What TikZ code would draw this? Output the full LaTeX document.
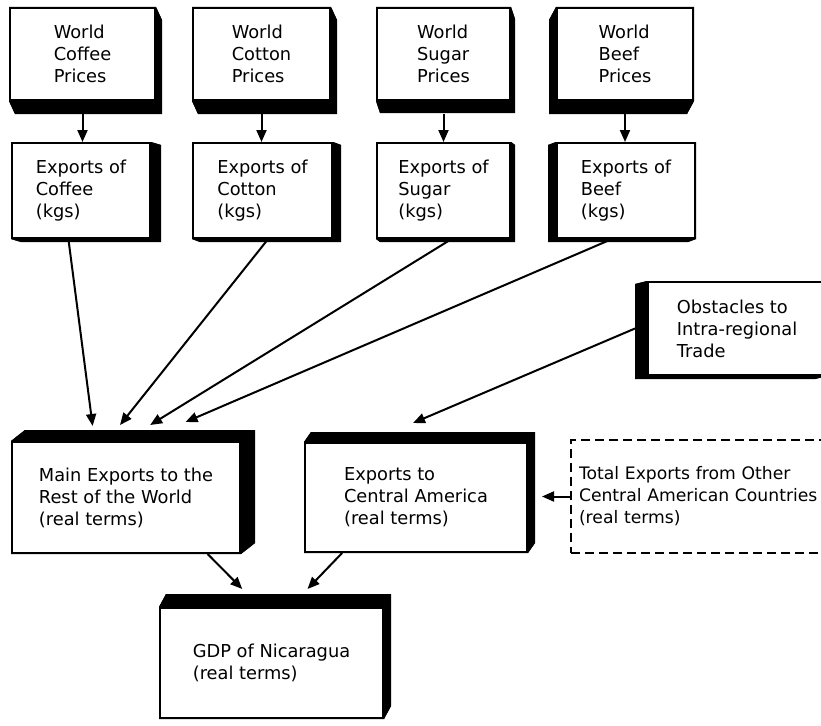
\documentclass[tikz,border=0pt]{standalone}
\usepackage{fontspec}
\setmainfont{DejaVu Sans}
\usetikzlibrary{arrows.meta,calc,backgrounds}

% solid side of a box, pushed out by (dx,dy)
\newcommand{\slab}[3]{%
  \fill ([shift={(#2,#3)}]#1.north west) rectangle ([shift={(#2,#3)}]#1.south east);
  \foreach \a/\b in {north west/north east, north east/south east, south east/south west, south west/north west}
    \fill (#1.\a) -- (#1.\b) -- ([shift={(#2,#3)}]#1.\b) -- ([shift={(#2,#3)}]#1.\a) -- cycle;
}

\begin{document}
\begin{tikzpicture}[x=1pt, y=-1pt, >={Triangle[length=12pt,width=10pt]},
  font=\fontsize{17.8}{22}\selectfont,
  blk/.style={draw, fill=white, line width=2pt, align=left, inner sep=0pt},
  conn/.style={->, line width=2pt}]
\useasboundingbox (0,0) rectangle (821,725);
% prices
\node[blk, minimum width=145pt, minimum height=92pt] (pc) at (82.5,54) {World\\Coffee\\Prices};
\node[blk, minimum width=137pt, minimum height=92pt] (pt) at (261.5,54) {World\\Cotton\\Prices};
\node[blk, minimum width=133pt, minimum height=92pt] (ps) at (443.5,54) {World\\Sugar\\Prices};
\node[blk, minimum width=136pt, minimum height=92pt] (pb) at (625,54) {World\\Beef\\Prices};
% exports in kgs
\node[blk, minimum width=138pt, minimum height=95pt] (ec) at (81,190.5) {Exports of\\Coffee\\(kgs)};
\node[blk, minimum width=139pt, minimum height=95pt] (et) at (262.5,190.5) {Exports of\\Cotton\\(kgs)};
\node[blk, minimum width=133pt, minimum height=95pt] (es) at (443.5,190.5) {Exports of\\Sugar\\(kgs)};
\node[blk, minimum width=138pt, minimum height=95pt] (eb) at (626,190.5) {Exports of\\Beef\\(kgs)};
\node[blk, minimum width=178pt, minimum height=93pt] (ob) at (737,328.5) {Obstacles to\\Intra-regional\\Trade};
% real terms
\node[blk, minimum width=228pt, minimum height=111pt] (mw) at (126,497.5) {Main Exports to the\\Rest of the World\\(real terms)};
\node[blk, minimum width=222pt, minimum height=109pt] (ca) at (416,497.5) {Exports to\\Central America\\(real terms)};
\node[blk, dash pattern=on 9pt off 5pt, fill=none, anchor=west, text width=252pt,
  inner xsep=8pt, minimum height=113pt, font=\fontsize{17.2}{22}\selectfont] (tot) at (570,496.5)
  {Total Exports from Other\\Central American Countries\\(real terms)};
\node[blk, minimum width=223pt, minimum height=110pt] (gdp) at (271.5,663) {GDP of Nicaragua\\(real terms)};

\begin{scope}[on background layer]
\slab{pc}{6}{13} \slab{pt}{6}{13} \slab{ps}{4}{12} \slab{pb}{-7}{13}
\slab{ec}{10}{3} \slab{et}{8}{3} \slab{es}{4}{3} \slab{eb}{-8}{3}
\slab{ob}{-12}{3}
\slab{mw}{14}{-11} \slab{ca}{7}{-10} \slab{gdp}{7}{-13}
\end{scope}

\foreach \p/\e in {pc/ec, pt/et, ps/es, pb/eb}
  \draw[conn] ([yshift=-13pt]\p.south) -- (\p.south |- \e.north);
\draw[conn] ($(ec.south west)!0.41!(ec.south east)$) -- ($(mw.north west)!0.355!(mw.north east)+(0,-15)$);
\draw[conn] ($(et.south west)!0.54!(et.south east)$) -- ($(mw.north west)!0.474!(mw.north east)+(0,-16)$);
\draw[conn] ($(es.south west)!0.56!(es.south east)$) -- ($(mw.north west)!0.605!(mw.north east)+(0,-16)$);
\draw[conn] ($(eb.south west)!0.40!(eb.south east)$) -- ($(mw.north west)!0.759!(mw.north east)+(0,-19)$);
\draw[conn] ([xshift=-12pt]ob.west) -- ($(ca.north)+(-3,-19)$);
\draw[conn] (tot.west) -- ($(tot.west -| ca.east)+(14,0)$);
\draw[conn] ($(mw.south west)!0.855!(mw.south east)$) -- ($(gdp.north west)!0.37!(gdp.north east)+(0,-18)$);
\draw[conn] ($(ca.south west)!0.17!(ca.south east)$) -- ($(gdp.north west)!0.66!(gdp.north east)+(0,-18)$);
\end{tikzpicture}
\end{document}
